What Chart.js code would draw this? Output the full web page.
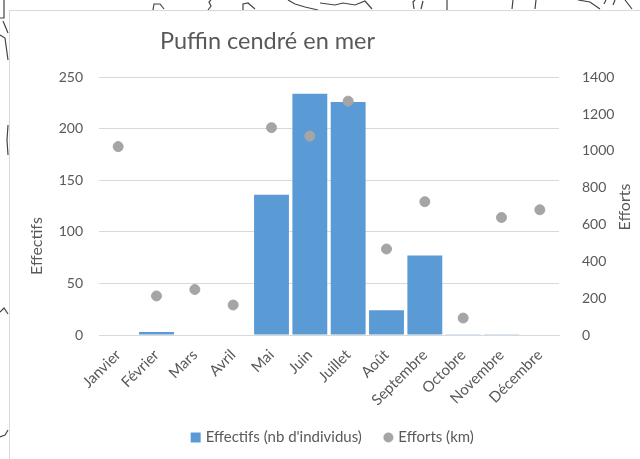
<!DOCTYPE html>
<html>
<head>
<meta charset="utf-8">
<title>Puffin cendré en mer</title>
<script src="https://cdn.jsdelivr.net/npm/chart.js@4"></script>
<style>
  html, body { margin: 0; padding: 0; background: #fff; }
  #wrap { position: relative; width: 640px; height: 459px; overflow: hidden; }
  #map { position: absolute; left: 0; top: 0; }
  #card { position: absolute; left: 9px; top: 10px; width: 640px; height: 460px; background: #fff; border: 1px solid #d9d9d9; box-sizing: border-box; }
  #chart { position: absolute; left: 0; top: 0; }
</style>
</head>
<body>
<div id="wrap">
  <!-- bits of the map that sits behind the chart in the original -->
  <svg id="map" width="640" height="459" fill="none" stroke="#444" stroke-width="1.2">
    <path d="M153 10L154 4L160 4L164 9M208 10L211 6L209 2L211 0M243 10L243 4L248 3L255 9M288 0L295 4L305 7L318 10"/>
    <path d="M320 3L335 5L343 3L355 5L365 1L372 9M414 9L413 2L415 0M421 9L423 1M447 10L447 0M512 9L513 0M535 9L536 0M578 0L590 2L600 9M604 4L606 0M613 5L615 0M625 0L632 9"/>
    <path d="M0 18L4 18L4 0M3 21L8 33M0 35L5 38L8 60M8 125L7 140L8 155M0 312L4 308L8 314M0 437L5 435L8 430"/>
  </svg>
  <div id="card"></div>
  <canvas id="chart" width="640" height="459"></canvas>
</div>
<script>
const months = ['Janvier','Février','Mars','Avril','Mai','Juin','Juillet','Août','Septembre','Octobre','Novembre','Décembre'];
const effectifs = [0,3,0,0,136,234,226,24,77,0.7,0.7,0];
const efforts = [1023,212,247,163,1126,1080,1270,467,724,92,638,680];

const textColor = '#595959';
const gridColor = '#d9d9d9';
const fontName = 'Lato';

// small round marker for the legend, the default one comes out too big
const dot = document.createElement('canvas');
dot.width = 11;
dot.height = 11;
const dotCtx = dot.getContext('2d');
dotCtx.fillStyle = '#a5a5a5';
dotCtx.arc(5.5, 5.5, 5, 0, Math.PI * 2);
dotCtx.fill();

// the title and legend are not centred on the plot in the original
const shiftBoxes = {
  id: 'shiftBoxes',
  afterLayout(chart) {
    chart.titleBlock.left = 0;
    chart.titleBlock.right = 535;
    chart.legend.legendHitBoxes.forEach(b => { b.left += 20; });
  }
};

// chart.js turns a right axis title the other way and always centres it
const axisTitles = {
  id: 'axisTitles',
  afterDraw(chart) {
    const ctx = chart.ctx;
    [['Effectifs', 37, 246], ['Efforts', 625, 207]].forEach(([text, x, y]) => {
      ctx.save();
      ctx.translate(x, y);
      ctx.rotate(-Math.PI / 2);
      ctx.font = '16px ' + fontName;
      ctx.fillStyle = textColor;
      ctx.textAlign = 'center';
      ctx.textBaseline = 'middle';
      ctx.fillText(text, 0, 0);
      ctx.restore();
    });
  }
};

new Chart(document.getElementById('chart'), {
  type: 'bar',
  data: {
    labels: months,
    datasets: [{
      type: 'line',
      label: 'Efforts (km)',
      data: efforts,
      yAxisID: 'y2',
      showLine: false,
      backgroundColor: '#a5a5a5',
      borderColor: '#a5a5a5',
      pointRadius: 5,
      pointStyle: 'circle',
      order: 1
    }, {
      label: "Effectifs (nb d'individus)",
      data: effectifs,
      yAxisID: 'y',
      backgroundColor: '#5b9bd5',
      barPercentage: 0.91,
      categoryPercentage: 1,
      pointStyle: 'rect',
      order: 2
    }]
  },
  options: {
    responsive: false,
    animation: false,
    layout: { padding: { left: 27, right: 0, top: 0, bottom: 4 } },
    plugins: {
      title: {
        display: true,
        text: 'Puffin cendré en mer',
        color: textColor,
        font: { family: fontName, size: 23.5, weight: 'normal' },
        padding: { top: 27, bottom: 22 }
      },
      legend: {
        position: 'bottom',
        reverse: true,
        labels: {
          usePointStyle: true,
          color: textColor,
          boxWidth: 5,
          boxHeight: 10,
          padding: 24,
          font: { family: fontName, size: 15 },
          generateLabels(chart) {
            const items = Chart.defaults.plugins.legend.labels.generateLabels(chart);
            items.forEach(item => { if (item.datasetIndex === 0) item.pointStyle = dot; });
            return items;
          }
        }
      }
    },
    scales: {
      x: {
        grid: { display: false },
        border: { color: gridColor },
        afterFit(scale) { scale.height = 71; },
        ticks: {
          color: textColor,
          minRotation: 45,
          maxRotation: 45,
          padding: 3,
          autoSkip: false,
          font: { family: fontName, size: 15 }
        }
      },
      y: {
        position: 'left',
        min: 0,
        max: 250,
        afterFit(scale) { scale.width = 72; },
        grid: { color: gridColor, drawTicks: false },
        border: { display: false },
        ticks: { stepSize: 50, color: textColor, padding: 16, font: { family: fontName, size: 14 } }
      },
      y2: {
        position: 'right',
        min: 0,
        max: 1400,
        afterFit(scale) { scale.width = 81; },
        grid: { display: false },
        border: { display: false },
        ticks: {
          stepSize: 200,
          color: textColor,
          padding: 15,
          font: { family: fontName, size: 14 },
          callback: value => String(value)
        }
      }
    }
  },
  plugins: [shiftBoxes, axisTitles]
});
</script>
</body>
</html>
